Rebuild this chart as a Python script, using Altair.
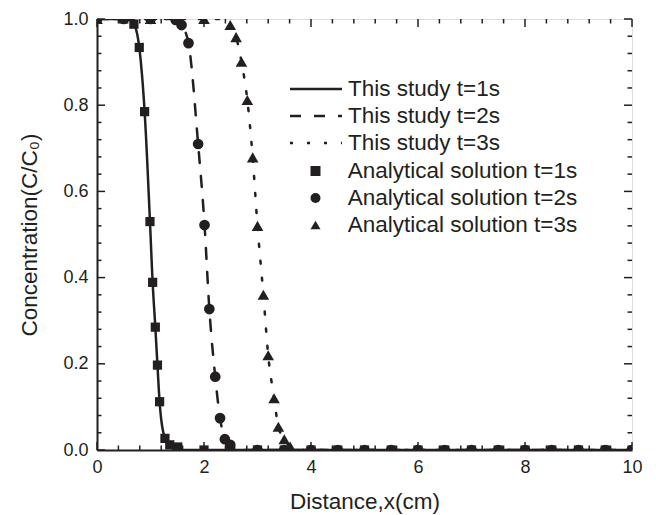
import altair as alt
import pandas as pd

INK = "#231f20"
FONT = "Liberation Sans"
W, H = 535, 431

# ---- "This study" curves ----
line1_x = [0, 0.5, 0.6, 0.69, 0.79, 0.89, 0.99, 1.04, 1.09, 1.13, 1.17, 1.27, 1.36, 1.45, 1.6, 10]
line1_y = [1, 1, 0.998, 0.988, 0.934, 0.785, 0.53, 0.389, 0.285, 0.197, 0.112, 0.027, 0.008, 0.002, 0, 0]
line2_x = [0, 1.4, 1.5, 1.58, 1.71, 1.89, 2.01, 2.10, 2.21, 2.30, 2.39, 2.49, 2.6, 2.8, 10]
line2_y = [1, 1, 0.997, 0.986, 0.944, 0.71, 0.522, 0.327, 0.17, 0.074, 0.025, 0.012, 0.004, 0, 0]
line3_x = [0, 2.3, 2.49, 2.60, 2.70, 2.81, 2.91, 3.00, 3.11, 3.20, 3.31, 3.39, 3.50, 3.61, 3.8, 10]
line3_y = [1, 1, 0.986, 0.958, 0.901, 0.812, 0.679, 0.52, 0.36, 0.22, 0.12, 0.054, 0.025, 0.008, 0, 0]

# ---- Analytical solution points ----
sq_x = [0, 0.5, 0.69, 0.79, 0.89, 0.99, 1.04, 1.09, 1.13, 1.17, 1.27, 1.36, 1.51, 2.0, 2.5, 3.0, 3.5,
        4.0, 4.5, 5.0, 5.5, 6.0, 6.5, 7.0, 7.5, 8.0, 8.5, 9.0, 9.5, 10.0]
sq_y = [1, 1, 0.988, 0.934, 0.785, 0.53, 0.389, 0.285, 0.197, 0.112, 0.027, 0.012, 0.007, 0, 0, 0, 0,
        0, 0, 0, 0, 0, 0, 0, 0, 0, 0, 0, 0, 0]
ci_x = [0, 0.5, 1.0, 1.47, 1.58, 1.71, 1.89, 2.01, 2.10, 2.21, 2.30, 2.39, 2.49, 3.0, 3.5,
        4.0, 4.5, 5.0, 5.5, 6.0, 6.5, 7.0, 7.5, 8.0, 8.5, 9.0, 9.5, 10.0]
ci_y = [1, 1, 1, 0.998, 0.986, 0.944, 0.71, 0.522, 0.327, 0.17, 0.074, 0.025, 0.012, 0, 0,
        0, 0, 0, 0, 0, 0, 0, 0, 0, 0, 0, 0, 0]
tr_x = [0, 1.0, 2.0, 2.49, 2.60, 2.70, 2.81, 2.91, 3.00, 3.11, 3.20, 3.31, 3.39, 3.50, 3.61,
        4.0, 4.5, 5.0, 5.5, 6.0, 6.5, 7.0, 7.5, 8.0, 8.5, 9.0, 9.5, 10.0]
tr_y = [1, 1, 1, 0.986, 0.958, 0.901, 0.812, 0.679, 0.52, 0.36, 0.22, 0.12, 0.054, 0.025, 0.008,
        0, 0, 0, 0, 0, 0, 0, 0, 0, 0, 0, 0, 0]

line_labels = ["This study t=1s", "This study t=2s", "This study t=3s"]
pt_labels = ["Analytical solution t=1s", "Analytical solution t=2s", "Analytical solution t=3s"]
pt_shapes = ["square", "circle", "triangle-up"]
pt_sizes = [85, 115, 135]

x_major = [0, 2, 4, 6, 8, 10]
x_minor = [0.4, 0.8, 1.2, 1.6, 2.4, 2.8, 3.2, 3.6, 4.4, 4.8, 5.2, 5.6,
           6.4, 6.8, 7.2, 7.6, 8.4, 8.8, 9.2, 9.6]
y_major = [0, 0.2, 0.4, 0.6, 0.8, 1.0]
y_minor = [0.04, 0.08, 0.12, 0.16, 0.24, 0.28, 0.32, 0.36, 0.44, 0.48, 0.52, 0.56,
           0.64, 0.68, 0.72, 0.76, 0.84, 0.88, 0.92, 0.96]


def frame(xs, ys, label):
    return pd.DataFrame({"x": xs, "y": ys, "series": label})


lines_df = pd.concat([frame(line1_x, line1_y, line_labels[0]),
                      frame(line2_x, line2_y, line_labels[1]),
                      frame(line3_x, line3_y, line_labels[2])])
pts_dfs = [frame(sq_x, sq_y, pt_labels[0]),
           frame(ci_x, ci_y, pt_labels[1]),
           frame(tr_x, tr_y, pt_labels[2])]

x_scale = alt.Scale(domain=[0, 10], nice=False, zero=False)
y_scale = alt.Scale(domain=[0, 1], nice=False, zero=False)

axis_common = dict(
    ticks=False, domainColor=INK, domainWidth=2, grid=False, labelFlush=False,
    labelFont=FONT, labelFontSize=18, labelColor=INK,
    titleFont=FONT, titleFontSize=22.5, titleFontWeight="normal", titleColor=INK,
)
x_axis = alt.Axis(title="Distance,x(cm)", values=x_major, format="d",
                  labelPadding=8, titlePadding=14, **axis_common)
y_axis = alt.Axis(title="Concentration(C/C₀)", values=y_major, format=".1f",
                  labelPadding=9, titlePadding=21, **axis_common)


def X(field):
    return alt.X(field, type="quantitative", scale=x_scale, axis=x_axis)


def Y(field):
    return alt.Y(field, type="quantitative", scale=y_scale, axis=y_axis)


LEG_FS = 22.5

lines = alt.Chart(lines_df).mark_line(
    clip=True, color=INK, strokeWidth=2.5, strokeCap="round", interpolate="monotone"
).encode(
    x=X("x"),
    y=Y("y"),
    strokeDash=alt.StrokeDash(
        "series:N",
        scale=alt.Scale(domain=line_labels, range=[[1, 0], [11, 13], [3, 14]]),
        legend=alt.Legend(
            title=None, orient="none", legendX=191.5, legendY=56.5, padding=0,
            symbolType="stroke", symbolSize=2704, symbolStrokeWidth=2.5,
            symbolStrokeColor=INK, clipHeight=27, rowPadding=0,
            labelFont=FONT, labelFontSize=LEG_FS, labelColor=INK, labelLimit=400,
            labelOffset=4.5, symbolOffset=0,
        ),
    ),
)

shape_legend = alt.Legend(
    title=None, orient="none", legendX=191.5, legendY=138.5, padding=0,
    symbolSize=100, symbolFillColor=INK, symbolStrokeWidth=0,
    clipHeight=27, rowPadding=0,
    labelFont=FONT, labelFontSize=LEG_FS, labelColor=INK, labelLimit=400,
    labelOffset=21, symbolOffset=15.75,
)

point_layers = [
    alt.Chart(df).mark_point(
        clip=True, filled=True, opacity=1, color=INK, strokeWidth=0, size=sz
    ).encode(
        x=X("x"),
        y=Y("y"),
        shape=alt.Shape("series:N",
                        scale=alt.Scale(domain=pt_labels, range=pt_shapes),
                        legend=shape_legend),
    )
    for df, sz in zip(pts_dfs, pt_sizes)
]


def xticks(vals, y0, y1):
    return alt.Chart(pd.DataFrame({"x": vals})).mark_rule(color=INK, strokeWidth=1.5).encode(
        x=X("x"), y=alt.value(y0), y2=alt.value(y1))


def yticks(vals, x0, x1):
    return alt.Chart(pd.DataFrame({"y": vals})).mark_rule(color=INK, strokeWidth=1.5).encode(
        y=Y("y"), x=alt.value(x0), x2=alt.value(x1))


ticks = [
    xticks(x_major, H, H - 8), xticks(x_minor, H, H - 4.5),
    xticks(x_major, 0, 8), xticks(x_minor, 0, 4.5),
    yticks(y_major, 0, 8), yticks(y_minor, 0, 4.5),
    yticks(y_major, W, W - 8), yticks(y_minor, W, W - 4.5),
]

chart = alt.layer(lines, *point_layers, *ticks).properties(
    width=W, height=H,
    autosize=alt.AutoSizeParams(type="none"),
    padding={"left": 89, "top": 11, "right": 16, "bottom": 64},
).configure_view(
    stroke=INK, strokeWidth=2
).configure(background="white")

chart.save("out.html", embed_options={"renderer": "svg", "actions": False})
